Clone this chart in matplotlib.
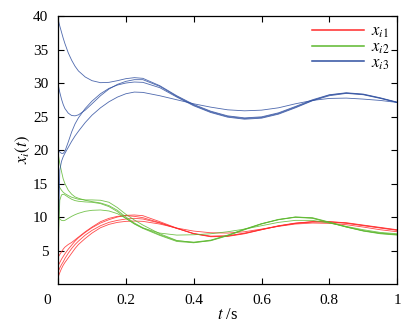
import matplotlib
matplotlib.use("Agg")
import matplotlib.pyplot as plt
import matplotlib.transforms as mtransforms

plt.rcParams['font.family'] = ['Liberation Serif', 'DejaVu Serif']
plt.rcParams['mathtext.fontset'] = 'stix'
plt.rcParams['font.size'] = 11

# time samples (s), denser near the start where the states move fast
t = [0, 0.005, 0.01, 0.015, 0.02, 0.03, 0.04, 0.05, 0.06, 0.08, 0.1, 0.125,
     0.15, 0.175, 0.2, 0.225, 0.25, 0.3, 0.35, 0.4, 0.45, 0.5, 0.55, 0.6,
     0.65, 0.7, 0.75, 0.8, 0.85, 0.9, 0.95, 1.0]

# first state component of each agent
x1_a = [4.0, 4.4, 4.8, 5.2, 5.5, 5.9, 6.2, 6.6, 7.0, 7.8, 8.5, 9.3, 9.8, 10.1, 10.2, 10.1,
        9.9, 9.15, 8.3, 7.55, 7.15, 7.2, 7.6, 8.15, 8.7, 9.1, 9.3, 9.3, 9.1, 8.75, 8.4, 8.05]
x1_b = [2.7, 3.2, 3.7, 4.1, 4.5, 5.2, 5.8, 6.4, 6.9, 7.7, 8.4, 9.1, 9.6, 10.0, 10.25, 10.3,
        10.2, 9.3, 8.35, 7.5, 7.05, 7.1, 7.5, 8.1, 8.65, 9.05, 9.3, 9.3, 9.15, 8.8, 8.45, 8.1]
x1_c = [1.8, 2.4, 2.9, 3.3, 3.8, 4.6, 5.3, 5.9, 6.4, 7.3, 8.0, 8.7, 9.2, 9.5, 9.7, 9.8,
        9.7, 9.1, 8.3, 7.5, 7.1, 7.15, 7.55, 8.1, 8.65, 9.05, 9.25, 9.25, 9.05, 8.7, 8.35, 8.0]
x1_d = [1.0, 1.7, 2.3, 2.8, 3.2, 3.9, 4.6, 5.3, 5.9, 6.8, 7.6, 8.4, 8.9, 9.2, 9.35, 9.4,
        9.35, 8.95, 8.35, 7.9, 7.65, 7.6, 7.8, 8.2, 8.6, 8.95, 9.1, 9.05, 8.85, 8.5, 8.1, 7.8]

# second state component
x2_a = [19.5, 18.0, 16.8, 15.7, 15.0, 14.0, 13.4, 13.0, 12.8, 12.5, 12.3, 12.1, 11.7, 11.0, 10.0, 9.1,
        8.4, 7.35, 6.45, 6.25, 6.55, 7.3, 8.2, 9.0, 9.6, 9.95, 9.8, 9.15, 8.5, 7.95, 7.6, 7.4]
x2_b = [14.8, 14.4, 14.0, 13.7, 13.5, 13.2, 12.95, 12.8, 12.65, 12.55, 12.55, 12.5, 12.2, 11.4, 10.4, 9.55,
        8.8, 7.5, 6.5, 6.2, 6.45, 7.2, 8.1, 8.95, 9.6, 10.0, 9.9, 9.25, 8.55, 7.95, 7.55, 7.35]
x2_c = [10.0, 9.7, 9.5, 9.45, 9.5, 9.8, 10.1, 10.35, 10.55, 10.85, 11.0, 11.05, 10.9, 10.5, 9.8, 9.0,
        8.35, 7.6, 7.3, 7.35, 7.5, 7.8, 8.2, 8.7, 9.2, 9.5, 9.5, 9.1, 8.6, 8.1, 7.7, 7.5]
x2_d = [5.5, 12.5, 13.3, 13.4, 13.3, 12.95, 12.65, 12.45, 12.35, 12.25, 12.2, 12.0, 11.55, 10.8, 9.8, 8.95,
        8.3, 7.25, 6.35, 6.15, 6.5, 7.25, 8.15, 9.0, 9.65, 10.0, 9.85, 9.2, 8.5, 7.9, 7.5, 7.3]

# third state component
x3_a = [39.5, 38.5, 37.6, 36.7, 35.9, 34.5, 33.4, 32.5, 31.8, 30.9, 30.35, 30.05, 30.1, 30.35, 30.65, 30.8,
        30.7, 29.6, 28.1, 26.8, 25.8, 25.1, 24.8, 24.95, 25.55, 26.5, 27.5, 28.25, 28.55, 28.35, 27.8, 27.15]
x3_b = [29.8, 28.6, 27.6, 26.8, 26.2, 25.5, 25.15, 25.1, 25.25, 25.95, 26.9, 28.1, 29.1, 29.8, 30.25, 30.5,
        30.5, 29.5, 28.0, 26.7, 25.7, 25.0, 24.7, 24.85, 25.45, 26.4, 27.4, 28.2, 28.5, 28.3, 27.75, 27.1]
x3_c = [20.0, 19.7, 19.5, 19.5, 19.8, 21.2, 22.7, 23.9, 24.8, 26.2, 27.3, 28.4, 29.2, 29.7, 30.0, 30.15,
        30.1, 29.3, 27.9, 26.6, 25.6, 24.9, 24.6, 24.75, 25.35, 26.3, 27.35, 28.1, 28.45, 28.25, 27.7, 27.1]
x3_d = [6.0, 17.0, 18.3, 19.0, 19.5, 20.4, 21.3, 22.1, 22.8, 24.1, 25.2, 26.3, 27.2, 27.9, 28.4, 28.65,
        28.6, 28.1, 27.5, 26.9, 26.4, 26.0, 25.85, 25.95, 26.3, 26.9, 27.4, 27.7, 27.75, 27.6, 27.4, 27.1]

labels = ['$x_{i1}$', '$x_{i2}$', '$x_{i3}$']
colors = ['#ff2a2a', '#5cb82e', '#2f4fa0']

fig = plt.figure(figsize=(4.15, 3.27), dpi=100)
ax = fig.add_axes([0.140, 0.1315, 0.817, 0.8195])

groups = [[x1_a, x1_b, x1_c, x1_d], [x2_a, x2_b, x2_c, x2_d], [x3_a, x3_b, x3_c, x3_d]]
for lines, c, lab in zip(groups, colors, labels):
    for k, y in enumerate(lines):
        ax.plot(t, y, color=c, lw=0.6, alpha=0.85, label=lab if k == 0 else None)

ax.set_xlim(0, 1)
ax.set_ylim(0, 40)
ax.set_xticks([0, 0.2, 0.4, 0.6, 0.8, 1])
ax.set_xticklabels(['0', '0.2', '0.4', '0.6', '0.8', '1'])
ax.set_yticks([5, 10, 15, 20, 25, 30, 35, 40])
ax.tick_params(direction='in', top=True, right=True, length=4, width=0.8, pad=7)
for s in ax.spines.values():
    s.set_linewidth(0.9)

# the origin label sits left of the corner
zero = ax.get_xticklabels()[0]
zero.set_transform(zero.get_transform() + mtransforms.ScaledTranslation(-0.11, 0, fig.dpi_scale_trans))

ax.set_xlabel('$t$ /s', fontsize=12, labelpad=0)
ax.set_ylabel('$x_i(t)$', fontsize=12, labelpad=1)

leg = ax.legend(loc='upper right', bbox_to_anchor=(1.0, 0.998), frameon=False, fontsize=12,
                handlelength=3.1, handletextpad=0.45, labelspacing=-0.05, borderaxespad=0.05)
for h in leg.legend_handles:
    h.set_linewidth(1.1)
    h.set_alpha(1)

fig.savefig('out.png', dpi=100)
